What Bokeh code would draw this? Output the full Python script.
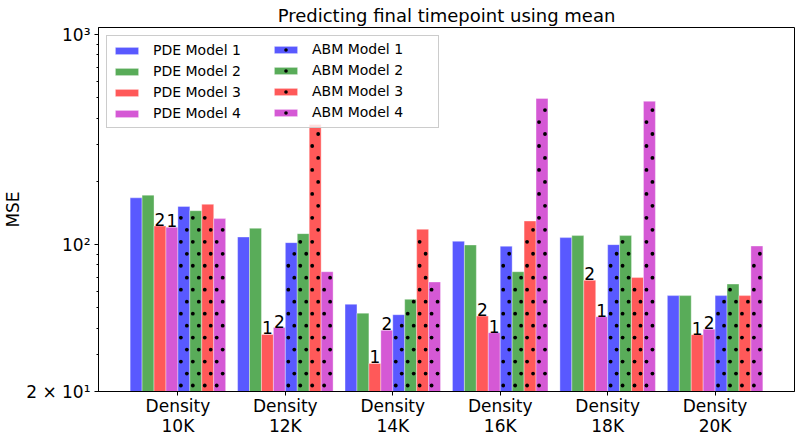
import math
from bokeh.plotting import figure
from bokeh.models import Range1d, FixedTicker, Legend, LegendItem
from bokeh.core.properties import value
from bokeh.embed import file_html
from bokeh.resources import INLINE

# Cell densities (one group of bars per density)
densities = ["10K", "12K", "14K", "16K", "18K", "20K"]
tick_labels = ["Density\n" + d for d in densities]

# Mean squared error of the final-timepoint prediction, per model
pde_model_1 = [167.0, 108.7, 52.0, 103.7, 108.0, 57.2]
pde_model_2 = [172.0, 119.6, 47.2, 99.6, 110.4, 57.2]
pde_model_3 = [122.6, 37.4, 27.2, 45.7, 67.6, 37.3]
pde_model_4 = [120.9, 40.3, 39.1, 38.1, 45.4, 39.6]
abm_model_1 = [152.0, 102.2, 46.4, 98.2, 100.0, 57.2]
abm_model_2 = [145.0, 112.8, 54.9, 74.3, 110.4, 64.9]
abm_model_3 = [155.5, 372.6, 118.3, 129.5, 69.7, 57.2]
abm_model_4 = [133.0, 74.3, 66.4, 495.8, 481.0, 98.5]

BLUE, GREEN, RED, MAGENTA = "#5959ff", "#59ac59", "#ff5959", "#d559d5"

series = [
    ("PDE Model 1", pde_model_1, BLUE, False),
    ("PDE Model 2", pde_model_2, GREEN, False),
    ("PDE Model 3", pde_model_3, RED, False),
    ("PDE Model 4", pde_model_4, MAGENTA, False),
    ("ABM Model 1", abm_model_1, BLUE, True),
    ("ABM Model 2", abm_model_2, GREEN, True),
    ("ABM Model 3", abm_model_3, RED, True),
    ("ABM Model 4", abm_model_4, MAGENTA, True),
]

n_series = len(series)
bar_w = 1.0 / (n_series + 1)
font = "DejaVu Sans"
Y_LO, Y_HI = 20, 1080

# Dot stipple for the ABM bars: two staggered columns per bar,
# evenly spaced on the log axis (step given in decades)
DOT_STEP = 0.057
DOT_GAP_TOP = 0.008

p = figure(
    width=802, height=439,
    x_range=Range1d(-0.739, 5.739),
    y_range=Range1d(Y_LO, Y_HI),
    y_axis_type="log",
    output_backend="svg",
    toolbar_location=None,
    min_border_left=98, min_border_right=8,
    min_border_top=27, min_border_bottom=48,
)

items = []
for j, (name, vals, color, hatched) in enumerate(series):
    xs = [i + (j - (n_series - 1) / 2) * bar_w for i in range(len(vals))]
    r = p.vbar(x=xs, width=bar_w, top=vals, bottom=1,
               fill_color=color, fill_alpha=1.0,
               line_color="white", line_alpha=0.35, line_width=1)
    renderers = [r]
    if hatched:
        dx, dy = [], []
        for xc, top in zip(xs, vals):
            limit = math.log10(top) - DOT_GAP_TOP
            k = 0
            while True:
                ly = math.log10(Y_LO) + DOT_STEP * (k + 0.5)
                if ly > limit:
                    break
                dx.append(xc - bar_w / 4 if k % 2 == 0 else xc + bar_w / 4)
                dy.append(10 ** ly)
                k += 1
        d = p.scatter(x=dx, y=dy, size=3.8, marker="circle",
                      fill_color="black", line_color=None)
        renderers.append(d)
    items.append(LegendItem(label=name, renderers=renderers))

# Rank labels (1 = lowest MSE) written above the two best models of each group
all_vals = [s[1] for s in series]
lab_x, lab_y, lab_t = [], [], []
for i in range(len(densities)):
    group = [v[i] for v in all_vals]
    order = sorted(range(n_series), key=lambda k: group[k])
    for rank, k in enumerate(order[:2], start=1):
        lab_x.append(i + (k - (n_series - 1) / 2) * bar_w)
        lab_y.append(group[k])
        lab_t.append(str(rank))
p.text(x=lab_x, y=lab_y, text=lab_t, text_font=value(font),
       text_font_size="17px", text_align="center",
       text_baseline="bottom", text_color="black")

# Legend: two columns, the first one carries the frame
common = dict(padding=5, spacing=3, label_height=18, glyph_height=9,
              glyph_width=29, label_standoff=12,
              label_text_font=font, label_text_font_size="14px",
              label_text_color="black")
leg1 = Legend(items=items[:4], location="top_left", margin=8,
              label_width=280, border_line_color="#cccccc",
              border_line_alpha=1.0, background_fill_alpha=0.8, **common)
frame_h = 439 - 27 - 48
leg_h = 5 * 2 + 4 * 18 + 3 * 3
leg2 = Legend(items=items[4:], location=(168, frame_h - 8 - leg_h),
              border_line_alpha=0.0, background_fill_alpha=0.0, **common)
p.add_layout(leg1, "center")
p.add_layout(leg2, "center")

# Title
p.title.text = "Predicting final timepoint using mean"
p.title.align = "center"
p.title.text_font = font
p.title.text_font_size = "18px"
p.title.text_font_style = "normal"
p.title.text_color = "black"
p.title.standoff = 4

# Axes
p.xgrid.visible = False
p.ygrid.visible = False
p.outline_line_color = "black"
p.outline_line_alpha = 1.0
p.outline_line_width = 1

p.xaxis.ticker = FixedTicker(ticks=list(range(len(densities))))
p.xaxis.major_label_overrides = {i: t for i, t in enumerate(tick_labels)}
p.xaxis.minor_tick_line_color = None

y_major = [20, 100, 1000]
y_labels = ["2 × 10¹", "10²", "10³"]
y_minor = [30, 40, 50, 60, 70, 80, 90, 200, 300, 400, 500, 600, 700, 800, 900]
p.yaxis.ticker = FixedTicker(ticks=y_major, minor_ticks=y_minor)
p.yaxis.major_label_overrides = dict(zip(y_major, y_labels))
p.yaxis.axis_label = "MSE"

for ax in (p.xaxis, p.yaxis):
    ax.axis_line_color = "black"
    ax.major_tick_line_color = "black"
    ax.major_tick_in = 0
    ax.major_tick_out = 4
    ax.minor_tick_in = 0
    ax.minor_tick_out = 2
    ax.major_label_text_font = font
    ax.major_label_text_font_size = "17px"
    ax.major_label_text_color = "black"
    ax.axis_label_text_font = font
    ax.axis_label_text_font_size = "17px"
    ax.axis_label_text_font_style = "normal"
    ax.axis_label_text_color = "black"
p.xaxis.major_label_standoff = 0
p.xaxis.major_label_text_line_height = 1.0
p.yaxis.major_label_standoff = 4
p.yaxis.axis_label_standoff = 0

open("out.html", "w").write(file_html(p, INLINE))
